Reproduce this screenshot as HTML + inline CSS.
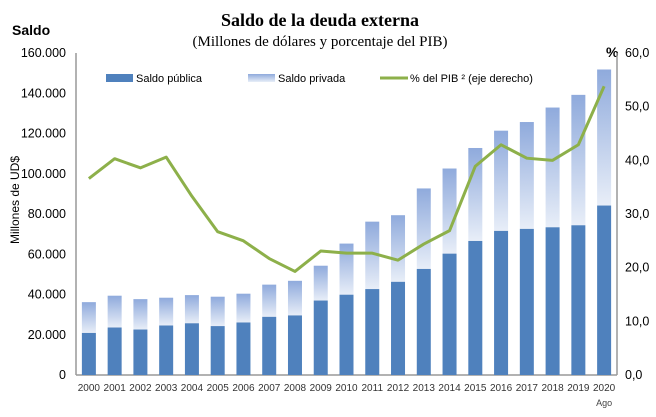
<!DOCTYPE html>
<html><head><meta charset="utf-8"><style>
body{margin:0;background:#fff;}
svg text{font-family:"Liberation Sans",sans-serif;}
</style></head><body>
<svg width="656" height="412" viewBox="0 0 656 412">
<defs>
<linearGradient id="gp" x1="0" y1="0" x2="0" y2="1">
<stop offset="0" stop-color="#8faadc"/><stop offset="1" stop-color="#e8eef8"/>
</linearGradient>
</defs>
<text x="320" y="26" text-anchor="middle" style="font-family:'Liberation Serif',serif;font-weight:bold;font-size:18px">Saldo de la deuda externa</text>
<text x="320" y="46" text-anchor="middle" style="font-family:'Liberation Serif',serif;font-size:15px">(Millones  de dólares y porcentaje del PIB)</text>
<text x="12" y="35" style="font-weight:bold;font-size:14px">Saldo</text>
<text x="606" y="57" style="font-weight:bold;font-size:14px">%</text>
<text transform="translate(19,200) rotate(-90)" text-anchor="middle" style="font-size:12px">Millones de UD$</text>
<g id="axes"></g>
<g id="bars"></g>
<g id="line"></g>
<g>
<rect x="106" y="74" width="27" height="8" fill="#4f81bd"/>
<text x="136" y="82" style="font-size:11px">Saldo pública</text>
<rect x="248" y="74" width="27" height="8" fill="url(#gp)"/>
<text x="278" y="82" style="font-size:11px">Saldo privada</text>
<line x1="380" y1="78" x2="408" y2="78" stroke="#8db04a" stroke-width="3"/>
<text x="410" y="82" style="font-size:11px">% del PIB ² (eje derecho)</text>
</g>
</svg>
<script>
const years=["2000","2001","2002","2003","2004","2005","2006","2007","2008","2009","2010","2011","2012","2013","2014","2015","2016","2017","2018","2019","2020"];
const publica=[20.9,23.6,22.6,24.6,25.7,24.3,26.1,28.9,29.6,37.0,39.9,42.7,46.3,52.7,60.3,66.6,71.6,72.6,73.4,74.4,84.2];
const total=[36.2,39.4,37.7,38.4,39.7,38.9,40.4,44.9,46.8,54.3,65.3,76.2,79.4,92.7,102.6,112.8,121.4,125.7,132.9,139.2,151.8];
const pib=[36.6,40.3,38.6,40.6,33.3,26.7,25.0,21.7,19.3,23.1,22.7,22.7,21.4,24.4,26.9,38.9,42.9,40.4,40.0,42.9,53.8];
const leftTicks=["0","20.000","40.000","60.000","80.000","100.000","120.000","140.000","160.000"];
const rightTicks=["0,0","10,0","20,0","30,0","40,0","50,0","60,0"];
const NS="http://www.w3.org/2000/svg";
const X0=76,X1=617,Y0=375,YT=53;
const step=(X1-X0)/years.length;
const xc=i=>X0+(i+0.5)*step;
const yL=v=>Y0-(v/160)*(Y0-YT);
const yR=v=>Y0-(v/60)*(Y0-YT);
function mk(tag,attrs,parent){const e=document.createElementNS(NS,tag);for(const k in attrs)e.setAttribute(k,attrs[k]);parent.appendChild(e);return e;}
const ax=document.getElementById('axes');
let e=mk('line',{x1:X0,y1:YT,x2:X0,y2:Y0,stroke:'#999','stroke-width':1.5},ax);


e=mk('line',{x1:X1,y1:YT,x2:X1,y2:Y0,stroke:'#999','stroke-width':1.5},ax);


e=mk('line',{x1:X0,y1:Y0,x2:X1,y2:Y0,stroke:'#999','stroke-width':1.5},ax);


leftTicks.forEach((t,i)=>{const el=mk('text',{x:66,y:yL(i*20)+4,'text-anchor':'end','font-size':'12.5'},ax);el.textContent=t;

});
rightTicks.forEach((t,i)=>{const el=mk('text',{x:625,y:yR(i*10)+4,'font-size':'12.5'},ax);el.textContent=t;

});
years.forEach((t,i)=>{const el=mk('text',{x:xc(i),y:391,'text-anchor':'middle','font-size':'10','fill':'#333'},ax);el.textContent=t;

});
e=mk('text',{x:xc(20),y:406,'text-anchor':'middle','font-size':'9','fill':'#444'},ax);e.textContent='Ago';


const bg=document.getElementById('bars');const bw=14;
years.forEach((y,i)=>{
 const r1=mk('rect',{x:xc(i)-bw/2,y:yL(total[i]),width:bw,height:yL(publica[i])-yL(total[i]),fill:'url(#gp)'},bg);
 
 
 const r2=mk('rect',{x:xc(i)-bw/2,y:yL(publica[i]),width:bw,height:Y0-yL(publica[i]),fill:'#4f81bd'},bg);
 
 
});
const pl=mk('polyline',{points:pib.map((v,i)=>xc(i)+','+yR(v)).join(' '),fill:'none',stroke:'#8db04a','stroke-width':3,'stroke-linejoin':'round'},document.getElementById('line'));


</script>
</body></html>
